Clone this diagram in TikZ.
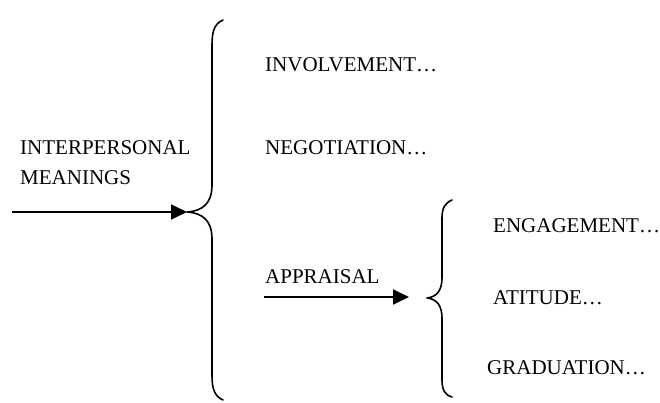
\documentclass[tikz,border=0pt]{standalone}
\usepackage{fontspec}
\setmainfont{Liberation Serif}
\usetikzlibrary{arrows.meta}
\begin{document}
\begin{tikzpicture}[x=1pt,y=-1pt,
  lbl/.style={anchor=base west,inner sep=0pt,font=\fontsize{21}{25}\selectfont},
  brace/.style={line width=1.6pt,line cap=round,line join=round},
  feed/.style={line width=1.8pt,-{Triangle[length=16pt,width=15pt]}}]
\useasboundingbox (0,0) rectangle (660,403);

% left label
\node[lbl] (ip) at (20,155) {INTERPERSONAL};
\node[lbl] (mn) at (20,185) {MEANINGS};

% main brace
\coordinate (tipA) at (187,212);
\draw[brace] (223,20) .. controls (214,24) and (212,32) .. (212,45) -- (212,185)
  .. controls (212,203) and (203,211) .. (tipA)
  .. controls (203,213) and (212,221) .. (212,239) -- (212,375)
  .. controls (212,388) and (214,396) .. (223,400);
\coordinate (startA) at (12,212);
\draw[feed] (startA) -- (tipA);

% first-level options
\node[lbl] (inv) at (265,72) {INVOLVEMENT…};
\node[lbl] (neg) at (265,155) {NEGOTIATION…};
\node[lbl] (app) at (265,283) {APPRAISAL};

% second brace
\coordinate (tipB) at (427,298);
\draw[brace] (452,200) .. controls (445,203) and (442,208) .. (442,218) -- (442,278)
  .. controls (442,290) and (437,297) .. (tipB)
  .. controls (437,299) and (442,306) .. (442,318) -- (442,380)
  .. controls (442,390) and (445,395) .. (452,397);
\coordinate (startB) at (264,297);
\coordinate (endB) at (409,297);
\draw[feed] (startB) -- (endB);

% appraisal subsystems
\node[lbl] (eng) at (493,232) {ENGAGEMENT…};
\node[lbl] (att) at (493,304) {ATITUDE…};
\node[lbl] (gra) at (487,374) {GRADUATION…};
\end{tikzpicture}
\end{document}
